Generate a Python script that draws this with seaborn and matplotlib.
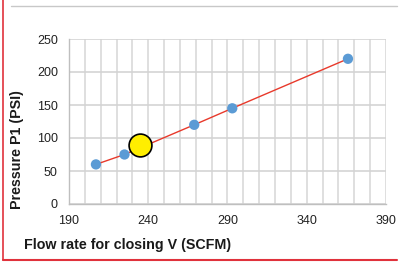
import matplotlib
matplotlib.use("Agg")
import matplotlib.pyplot as plt
import seaborn as sns
import pandas as pd
from matplotlib.lines import Line2D

flow = [207, 225, 269, 293, 366]
pressure = [60, 75, 120, 145, 220]
highlight_flow = [235]
highlight_pressure = [90]
x_ticks = [190, 240, 290, 340, 390]
y_ticks = [0, 50, 100, 150, 200, 250]

sns.set_theme(style="white")
plt.rcParams['font.family'] = ['Liberation Sans', 'DejaVu Sans']

df = pd.DataFrame({"flow": flow, "pressure": pressure})
hl = pd.DataFrame({"flow": highlight_flow, "pressure": highlight_pressure})

fig = plt.figure(figsize=(4.0, 2.69), dpi=100)
ax = fig.add_axes([69/400, 1-204/269, (386-69)/400, (204-39)/269])

ax.set_xlim(190, 390)
ax.set_ylim(0, 250)
for xv in range(190, 391, 10):
    ax.axvline(xv, color="#d9d9d9", lw=1.2, zorder=0)
for yv in y_ticks:
    ax.axhline(yv, color="#d4d4d4", lw=1.2, zorder=0)

sns.lineplot(data=df, x="flow", y="pressure", ax=ax, color="#e8392b", lw=1.0, zorder=2)
sns.scatterplot(data=df, x="flow", y="pressure", ax=ax, color="#5b9bd5", s=55,
                edgecolor="none", zorder=3)
sns.scatterplot(data=hl, x="flow", y="pressure", ax=ax, color="#ffee00", s=270,
                edgecolor="black", linewidth=1.2, zorder=4)

ax.set_xticks(x_ticks)
ax.set_yticks(y_ticks)
ax.tick_params(axis="both", labelsize=9, colors="#bfbfbf", length=3, width=0.8,
               direction="out", pad=5)
ax.tick_params(axis="both", labelcolor="#222222")
for s in ["top", "right"]:
    ax.spines[s].set_visible(False)
for s in ["left", "bottom"]:
    ax.spines[s].set_color("#bfbfbf")
    ax.spines[s].set_linewidth(1.0)

ax.set_xlabel("")
ax.set_ylabel("")
fig.text(24/400, 1-245/269, "Flow rate for closing V (SCFM)", fontsize=10.3,
         fontweight="bold", color="#1a1a1a", va="center", ha="left")
fig.text(17/400, 1-150/269, "Pressure P1 (PSI)", fontsize=10.3, fontweight="bold",
         color="#1a1a1a", rotation=90, va="center", ha="center")

# decorative frame lines
fig.add_artist(Line2D([3/400, 3/400], [1-260/269, 1.0], color="#e0323c", lw=1.2,
                      transform=fig.transFigure))
fig.add_artist(Line2D([3/400, 397/400], [1-260/269, 1-260/269], color="#e0323c", lw=1.5,
                      transform=fig.transFigure))
fig.add_artist(Line2D([11/400, 397/400], [1-6/269, 1-6/269], color="#c8c8c8", lw=1.0,
                      transform=fig.transFigure))

fig.savefig("out.png", dpi=100)
